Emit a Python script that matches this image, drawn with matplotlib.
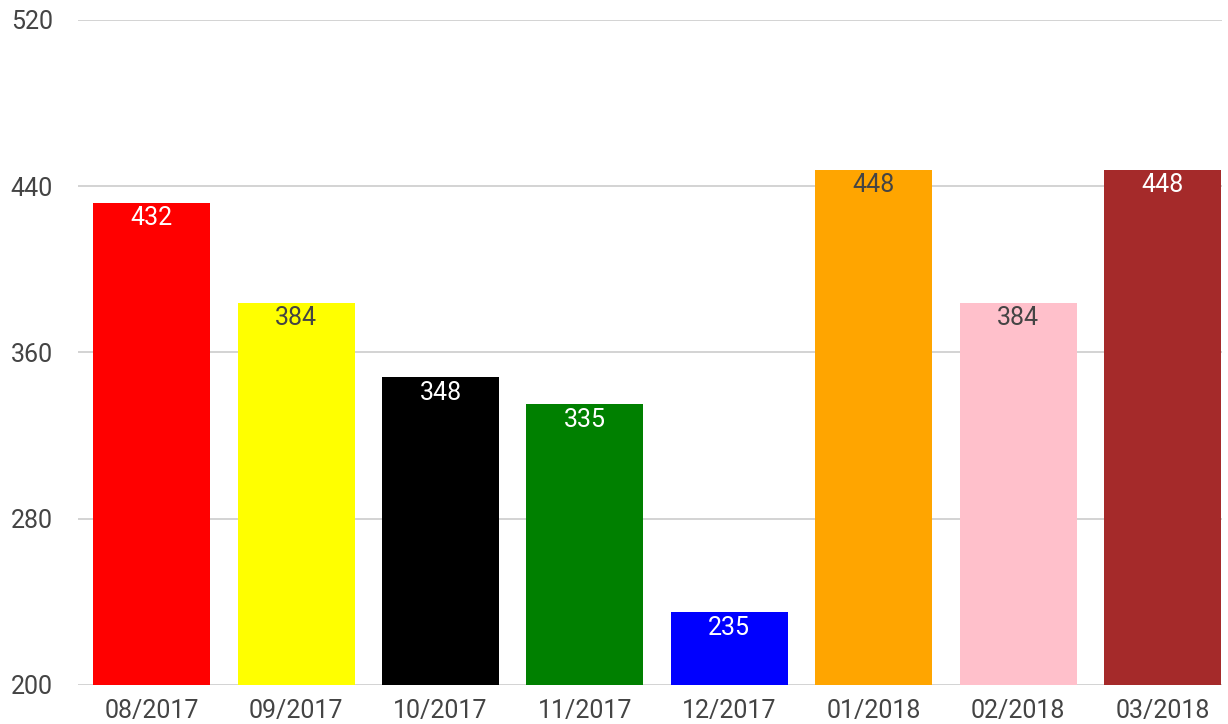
import matplotlib
matplotlib.use("Agg")
import matplotlib.pyplot as plt

categories = ["08/2017", "09/2017", "10/2017", "11/2017", "12/2017", "01/2018", "02/2018", "03/2018"]
values = [432, 384, 348, 335, 235, 448, 384, 448]
colors = ["red", "yellow", "black", "green", "blue", "orange", "pink", "brown"]
label_colors = ["white", "#444444", "white", "white", "white", "#444444", "#444444", "white"]
yticks = [200, 280, 360, 440, 520]

plt.rcParams['font.family'] = ['Roboto', 'DejaVu Sans']

fig = plt.figure(figsize=(12.28, 7.24), dpi=100)
ax = fig.add_axes([0.0635, 0.0539, 0.9315, 0.9185])

x = list(range(len(categories)))
ax.bar(x, [v - 200 for v in values], bottom=200, width=0.81, color=colors, zorder=3)
for xi, v, lc in zip(x, values, label_colors):
    ax.annotate(str(v), (xi, v), xytext=(0, -2.5), textcoords="offset points",
                ha="center", va="top", color=lc, fontsize=18, zorder=4)

ax.set_ylim(200, 520)
ax.set_xlim(-0.51, 7.41)
ax.set_yticks(yticks)
ax.set_xticks(x)
ax.set_xticklabels(categories)
ax.yaxis.grid(True, color="#cccccc", linewidth=1.2, zorder=0)
ax.tick_params(axis="both", length=0, labelsize=18, labelcolor="#444444")
ax.tick_params(axis="x", pad=10)
ax.tick_params(axis="y", pad=18)
for s in ax.spines.values():
    s.set_visible(False)

fig.savefig("out.png", dpi=100)
